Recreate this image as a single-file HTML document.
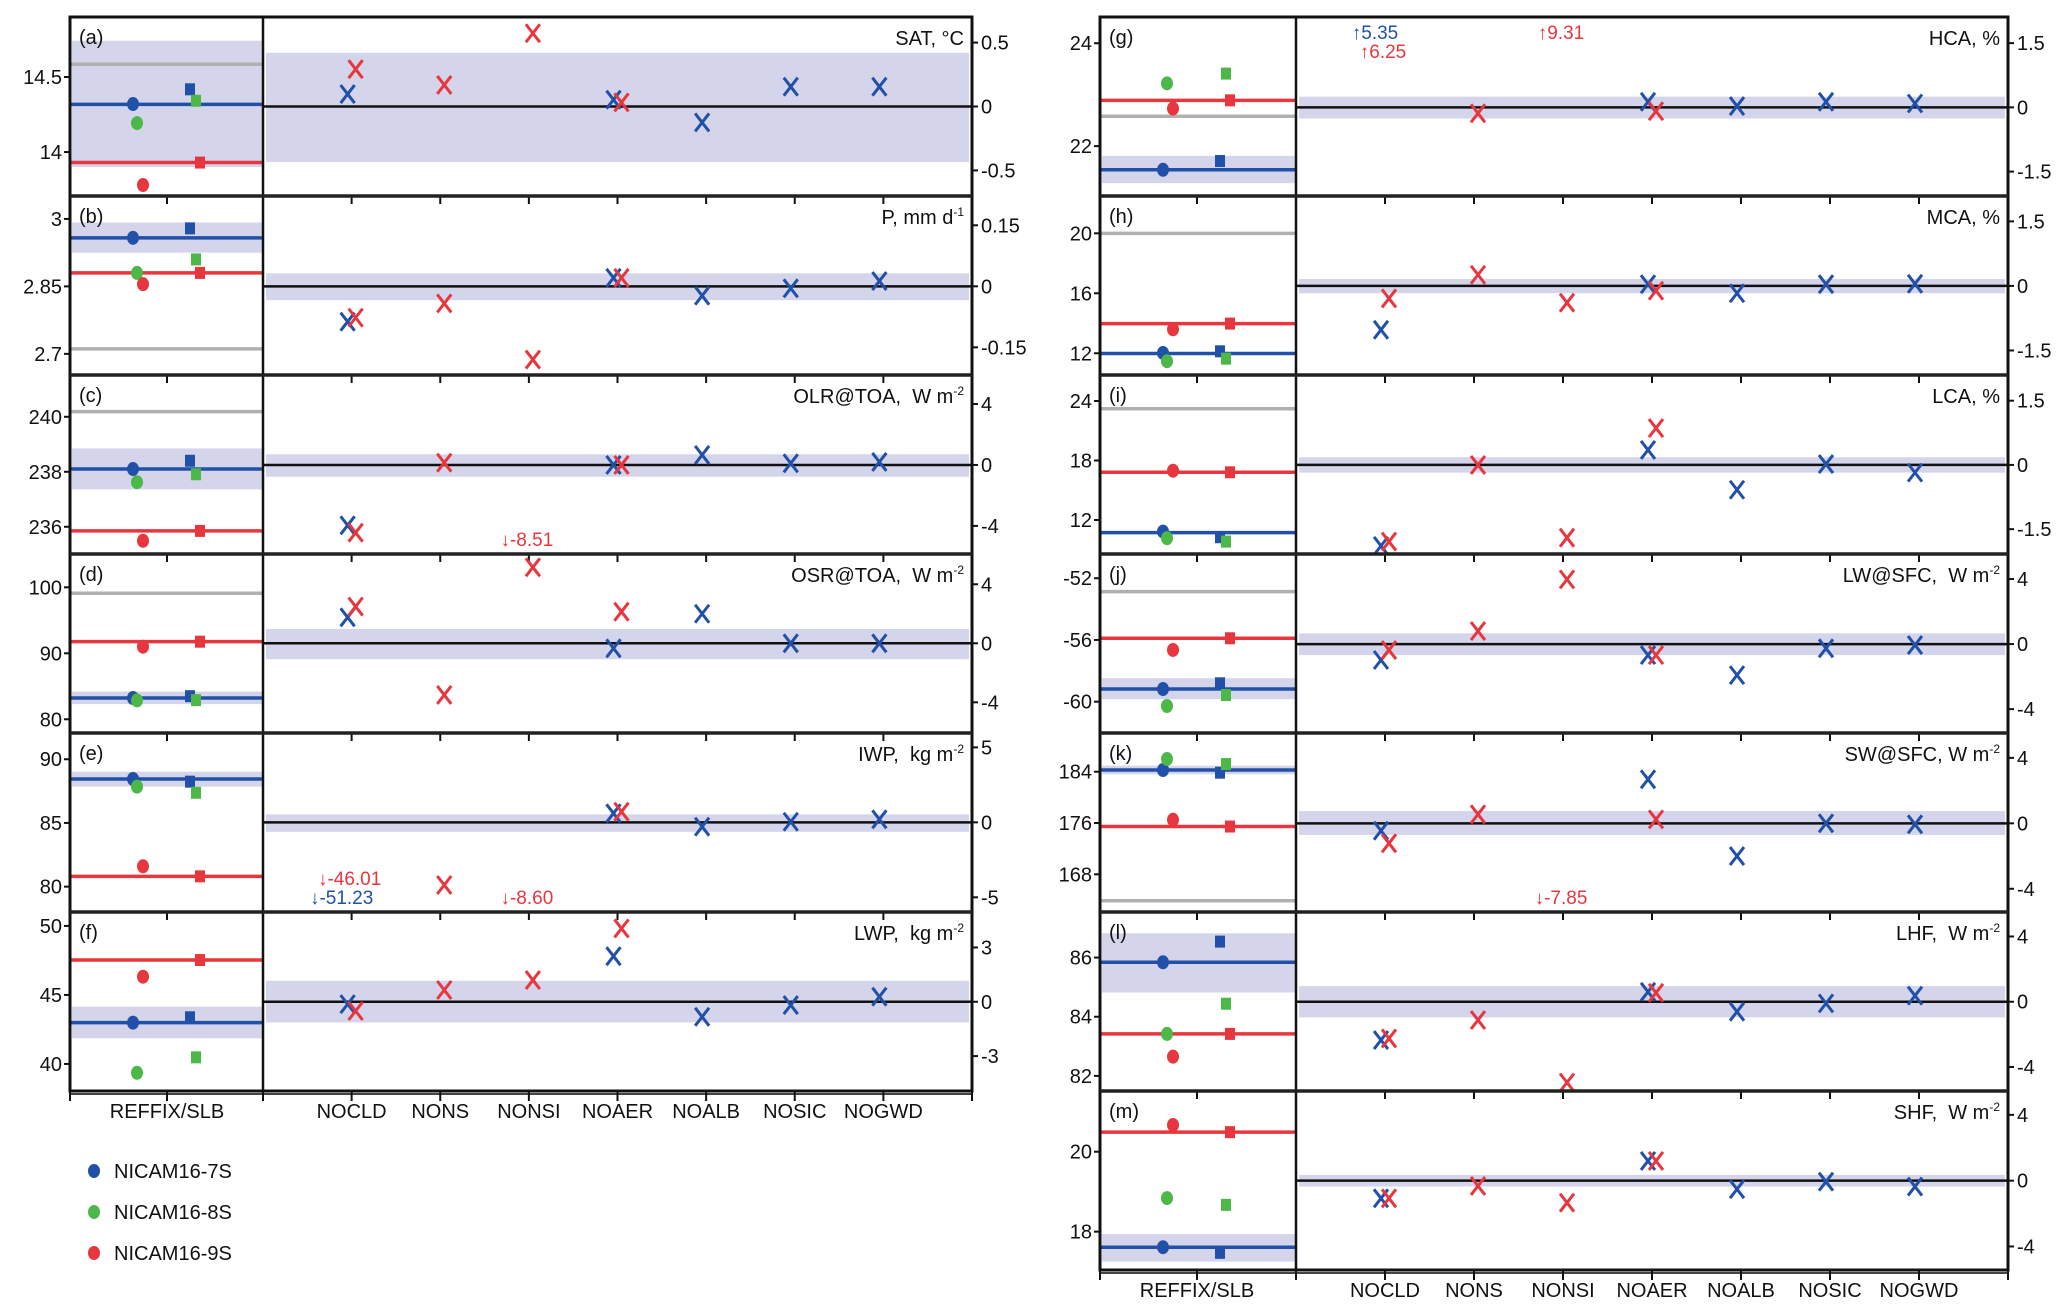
<!DOCTYPE html>
<html><head><meta charset="utf-8"><title>NICAM sensitivity chart</title>
<style>
html,body{margin:0;padding:0;background:#fff;}
svg{display:block;}
text{font-family:"Liberation Sans",Arial,sans-serif;fill:#111;}
.pre{white-space:pre;}
</style></head>
<body>
<svg id="chart" xmlns="http://www.w3.org/2000/svg" width="2067" height="1316" viewBox="0 0 2067 1316"></svg>
<script>
// ---------- DATA ----------
const categories = ["NOCLD","NONS","NONSI","NOAER","NOALB","NOSIC","NOGWD"];
const panelLetters = ["a","b","c","d","e","f","g","h","i","j","k","l","m"];
const panelTitles = ["SAT, °C","P, mm d|-1","OLR@TOA,  W m|-2","OSR@TOA,  W m|-2","IWP,  kg m|-2","LWP,  kg m|-2",
  "HCA, %","MCA, %","LCA, %","LW@SFC,  W m|-2","SW@SFC, W m|-2","LHF,  W m|-2","SHF,  W m|-2"];
const leftDomains = [[13.707,14.9],[2.653,3.051],[235.01,241.52],[77.92,105.05],[78.01,92.06],[38.04,51.01],
  [21.03,24.51],[10.55,22.49],[8.57,26.62],[-62.03,-50.43],[162.12,190.04],[81.49,87.54],[17.04,21.52]];
const rightDomains = [[-0.7,0.7],[-0.218,0.222],[-5.84,5.9],[-6.08,6.05],[-5.98,5.96],[-4.93,4.96],
  [-2.07,2.11],[-2.07,2.09],[-2.08,2.1],[-5.47,5.54],[-5.42,5.52],[-5.47,5.5],[-5.43,5.45]];
const leftTicks = [[14.5,14],[3,2.85,2.7],[240,238,236],[100,90,80],[90,85,80],[50,45,40],
  [24,22],[20,16,12],[24,18,12],[-52,-56,-60],[184,176,168],[86,84,82],[20,18]];
const rightTicks = [[0.5,0,-0.5],[0.15,0,-0.15],[4,0,-4],[4,0,-4],[5,0,-5],[3,0,-3],
  [1.5,0,-1.5],[1.5,0,-1.5],[1.5,0,-1.5],[4,0,-4],[4,0,-4],[4,0,-4],[4,0,-4]];
const grayLine = [14.585,2.711,240.19,99.1,null,null,22.58,20.0,23.22,-52.87,163.88,null,null];
const blueLine = [14.318,2.958,238.10,83.22,88.45,42.99,21.54,11.98,10.73,-59.18,184.27,85.84,17.61];
const blueBand = [[13.9,14.742],[2.925,2.992],[237.36,238.85],[82.3,84.2],[87.85,89.02],[41.86,44.15],
  [21.28,21.81],[11.9,12.06],[10.65,10.81],[-59.84,-58.48],[183.6,184.94],[84.82,86.82],[17.25,17.94]];
const redLine = [13.93,2.880,235.85,91.76,80.81,47.53,22.89,13.98,16.81,-55.89,175.45,83.42,20.49];
const circ7S = [14.32,2.958,238.10,83.22,88.45,42.99,21.54,12.02,10.83,-59.18,184.27,85.84,17.61];
const circ8S = [14.193,2.880,237.62,82.86,87.85,39.36,23.22,11.47,10.16,-60.28,185.98,83.42,18.84];
const circ9S = [13.78,2.855,235.49,91.0,81.6,46.32,22.73,13.6,16.97,-56.65,176.5,82.65,20.67];
const sq7S = [14.418,2.979,238.40,83.5,88.24,43.38,21.71,12.13,10.26,-58.81,183.85,86.54,17.47];
const sq8S = [14.342,2.910,237.91,82.9,87.37,40.48,23.41,11.64,9.82,-59.57,185.2,84.44,18.67];
const sq9S = [13.93,2.880,235.85,91.76,80.81,47.53,22.89,13.98,16.81,-55.89,175.45,83.42,20.49];
const rightBand = [[-0.435,0.42],[-0.034,0.032],[-0.77,0.70],[-1.08,0.97],[-0.63,0.53],[-1.14,1.16],
  [-0.26,0.25],[-0.17,0.16],[-0.18,0.18],[-0.68,0.66],[-0.71,0.75],[-0.96,0.96],[-0.36,0.35]];
const xBlue = [
 [0.097,null,null,0.053,-0.125,0.155,0.155],
 [-0.087,null,null,0.021,-0.023,-0.005,0.013],
 [-3.96,null,null,0,0.66,0.11,0.2],
 [1.76,null,null,-0.34,2.0,0,0],
 [null,null,null,0.6,-0.29,0.04,0.2],
 [-0.13,null,null,2.52,-0.83,-0.18,0.28],
 [null,null,null,0.13,0.03,0.13,0.09],
 [-1.02,null,null,0.04,-0.17,0.04,0.05],
 [-1.89,null,null,0.35,-0.58,0.02,-0.18],
 [-0.98,null,null,-0.68,-1.91,-0.26,-0.06],
 [-0.45,null,null,2.69,-2.0,0,-0.06],
 [-2.35,null,null,0.61,-0.61,-0.1,0.37],
 [-1.07,null,null,1.2,-0.52,-0.06,-0.36]];
const xRed = [
 [0.292,0.169,0.573,0.032,null,null,null],
 [-0.077,-0.042,-0.18,0.021,null,null,null],
 [-4.44,0.15,null,0,null,null,null],
 [2.49,-3.5,5.15,2.14,null,null,null],
 [null,-4.18,null,0.71,null,null,null],
 [-0.51,0.65,1.2,4.05,null,null,null],
 [null,-0.14,null,-0.09,null,null,null],
 [-0.29,0.26,-0.39,-0.11,null,null,null],
 [-1.79,0,-1.70,0.86,null,null,null],
 [-0.37,0.8,3.98,-0.68,null,null,null],
 [-1.22,0.55,null,0.24,null,null,null],
 [-2.25,-1.12,-4.95,0.55,null,null,null],
 [-1.07,-0.32,-1.34,1.2,null,null,null]];
const offPanel = [2,4,4,4,6,6,6,10];
const offCat = [2,0,0,2,0,0,2,2];
const offSeries = ["red","red","blue","red","blue","red","red","red"];
const offText = ["↓-8.51","↓-46.01","↓-51.23","↓-8.60","↑5.35","↑6.25","↑9.31","↓-7.85"];
const offSlot = [0,1,0,0,0,1,0,0];
const legendLabels = ["NICAM16-7S","NICAM16-8S","NICAM16-9S"];

// ---------- LAYOUT ----------
const figs = [{x0:70,div:263,x1:972,rows:6,first:0},{x0:1100,div:1296,x1:2008,rows:7,first:6}];
const TOP = 17, RH = 179;
const C = {blue:"#2150a8",red:"#e8363e",green:"#4cb848",gray:"#b0b0b0",band:"#d4d5eb"};
const svg = document.getElementById("chart");
const NS = "http://www.w3.org/2000/svg";
function mk(tag, attrs, parent){
  const e = document.createElementNS(NS, tag);
  for (const k in attrs) e.setAttribute(k, attrs[k]);
  (parent||svg).appendChild(e);
  return e;
}
function figOf(p){ return p < 6 ? figs[0] : figs[1]; }
function rowTop(p){ const f = figOf(p); return TOP + RH*(p - f.first); }
function yL(p, v){ const d = leftDomains[p], T = rowTop(p); return T + (d[1]-v)/(d[1]-d[0])*RH; }
function yR(p, v){ const d = rightDomains[p], T = rowTop(p); return T + (d[1]-v)/(d[1]-d[0])*RH; }
function xCat(f, i){ return f.div + (f.x1 - f.div)*(i+1)/8; }
function xRef(f){ return f.x0 + 97; }

function drawX(x, y, color, name){
  const g = mk("g", {});
  
  
  mk("path", {d:`M${x-7},${y-9}L${x+7},${y+9}M${x+7},${y-9}L${x-7},${y+9}`, stroke:color, "stroke-width":3, fill:"none"}, g);
}

for (let p = 0; p < 13; p++){
  const f = figOf(p), T = rowTop(p), B = T + RH;
  const g = mk("g", {});
  
  
  const rb = rightBand[p];
  const r1 = mk("rect", {x:f.div+3, y:yR(p, rb[1]), width:f.x1-f.div-6, height:yR(p, rb[0])-yR(p, rb[1]), fill:C.band}, g);
  
  
  const zl = mk("line", {x1:f.div, x2:f.x1, y1:yR(p,0), y2:yR(p,0), stroke:"#111", "stroke-width":2.5}, g);
  
  
  const bb = blueBand[p];
  const r2 = mk("rect", {x:f.x0+2, y:yL(p, bb[1]), width:f.div-f.x0-3, height:yL(p, bb[0])-yL(p, bb[1]), fill:C.band}, g);
  
  
  if (grayLine[p] !== null){
    const l = mk("line", {x1:f.x0, x2:f.div, y1:yL(p,grayLine[p]), y2:yL(p,grayLine[p]), stroke:C.gray, "stroke-width":3.5}, g);
    
    
  }
  const bl = mk("line", {x1:f.x0, x2:f.div, y1:yL(p,blueLine[p]), y2:yL(p,blueLine[p]), stroke:C.blue, "stroke-width":3.5}, g);
  
  
  const rl = mk("line", {x1:f.x0, x2:f.div, y1:yL(p,redLine[p]), y2:yL(p,redLine[p]), stroke:C.red, "stroke-width":3.5}, g);
  
  
  const cs = [[circ7S,C.blue,63],[circ8S,C.green,67],[circ9S,C.red,73]];
  cs.forEach((c, i) => {
    const e = mk("ellipse", {cx:f.x0+c[2], cy:yL(p,c[0][p]), rx:6, ry:7, fill:c[1]}, g);
    
    
  });
  const ss = [[sq7S,C.blue,120],[sq8S,C.green,126],[sq9S,C.red,130]];
  ss.forEach((s, i) => {
    const e = mk("rect", {x:f.x0+s[2]-5, y:yL(p,s[0][p])-6, width:10, height:12, fill:s[1]}, g);
    
    
  });
  for (let i = 0; i < 7; i++){
    if (xBlue[p][i] !== null) drawX(xCat(f,i)-4, yR(p, xBlue[p][i]), C.blue, 'x-7s-' + categories[i].toLowerCase());
    if (xRed[p][i] !== null) drawX(xCat(f,i)+4, yR(p, xRed[p][i]), C.red, 'x-9s-' + categories[i].toLowerCase());
  }
  leftTicks[p].forEach(v => {
    const y = yL(p, v);
    mk("line", {x1:f.x0-6, x2:f.x0, y1:y, y2:y, stroke:"#111", "stroke-width":2}, g);
    const t = mk("text", {x:f.x0-8, y:y+7, "text-anchor":"end", "font-size":20}, g);
    
    
    t.textContent = String(v);
  });
  rightTicks[p].forEach(v => {
    const y = yR(p, v);
    mk("line", {x1:f.x1, x2:f.x1+6, y1:y, y2:y, stroke:"#111", "stroke-width":2}, g);
    const t = mk("text", {x:f.x1+9, y:y+7, "font-size":20}, g);
    
    
    t.textContent = String(v);
  });
  const lt = mk("text", {x:f.x0+9, y:T+27, "font-size":20}, g);
  
  
  lt.textContent = "(" + panelLetters[p] + ")";
  const parts = panelTitles[p].split("|");
  const tt = mk("text", {x:f.x1-8, y:T+28, "text-anchor":"end", "font-size":20, "class":"pre"}, g);
  
  
  tt.textContent = parts[0];
  if (parts[1]){
    const sp = mk("tspan", {"font-size":12, dy:-8}, tt);
    sp.textContent = parts[1];
  }
  if (p !== f.first){
    [xRef(f)].concat(categories.map((c,i)=>xCat(f,i))).forEach(x=>{
      mk("line", {x1:x, x2:x, y1:T, y2:T+8, stroke:"#111", "stroke-width":2}, g);
    });
  }
}
for (let k = 0; k < offText.length; k++){
  const p = offPanel[k], f = figOf(p), T = rowTop(p);
  const up = offText[k].charAt(0) === "↑";
  const y = up ? T + 22 + 19*offSlot[k] : T + RH - 8 - 19*offSlot[k];
  const x = xCat(f, offCat[k]) + (offSeries[k] === "blue" ? -10 : -2);
  const t = mk("text", {x:x, y:y, "text-anchor":"middle", "font-size":19});
  
  
  t.style.fill = offSeries[k]==="blue"?C.blue:C.red;
  t.textContent = offText[k];
}
figs.forEach((f, fi) => {
  const bottom = TOP + RH*f.rows;
  const g = mk("g", {});
  
  
  mk("rect", {x:f.x0, y:TOP, width:f.x1-f.x0, height:bottom-TOP, fill:"none", stroke:"#111", "stroke-width":3}, g);
  mk("line", {x1:f.div, x2:f.div, y1:TOP, y2:bottom, stroke:"#111", "stroke-width":2.5}, g);
  for (let r = 1; r < f.rows; r++){
    mk("line", {x1:f.x0, x2:f.x1, y1:TOP+RH*r, y2:TOP+RH*r, stroke:"#222", "stroke-width":3.5}, g);
  }
  mk("line", {x1:f.x0, x2:f.x1, y1:bottom+3, y2:bottom+3, stroke:"#444", "stroke-width":2}, g);
  [f.x0, xRef(f), f.div, f.x1].concat(categories.map((c,i)=>xCat(f,i))).forEach(x=>{
    mk("line", {x1:x, x2:x, y1:bottom, y2:bottom+10, stroke:"#111", "stroke-width":2}, g);
  });
  const rt = mk("text", {x:xRef(f), y:bottom+27, "text-anchor":"middle", "font-size":20}, g);
  
  
  rt.textContent = "REFFIX/SLB";
  categories.forEach((c, i) => {
    const t = mk("text", {x:xCat(f,i), y:bottom+27, "text-anchor":"middle", "font-size":20}, g);
    
    
    t.textContent = c;
  });
});
const legendColors = [C.blue, C.green, C.red];
legendLabels.forEach((lab, i) => {
  const g = mk("g", {});
  
  
  const y = 1171 + 41*i;
  mk("ellipse", {cx:94, cy:y, rx:6, ry:7, fill:legendColors[i]}, g);
  const t = mk("text", {x:114, y:y+7, "font-size":20}, g);
  t.textContent = lab;
});
</script>
</body></html>
